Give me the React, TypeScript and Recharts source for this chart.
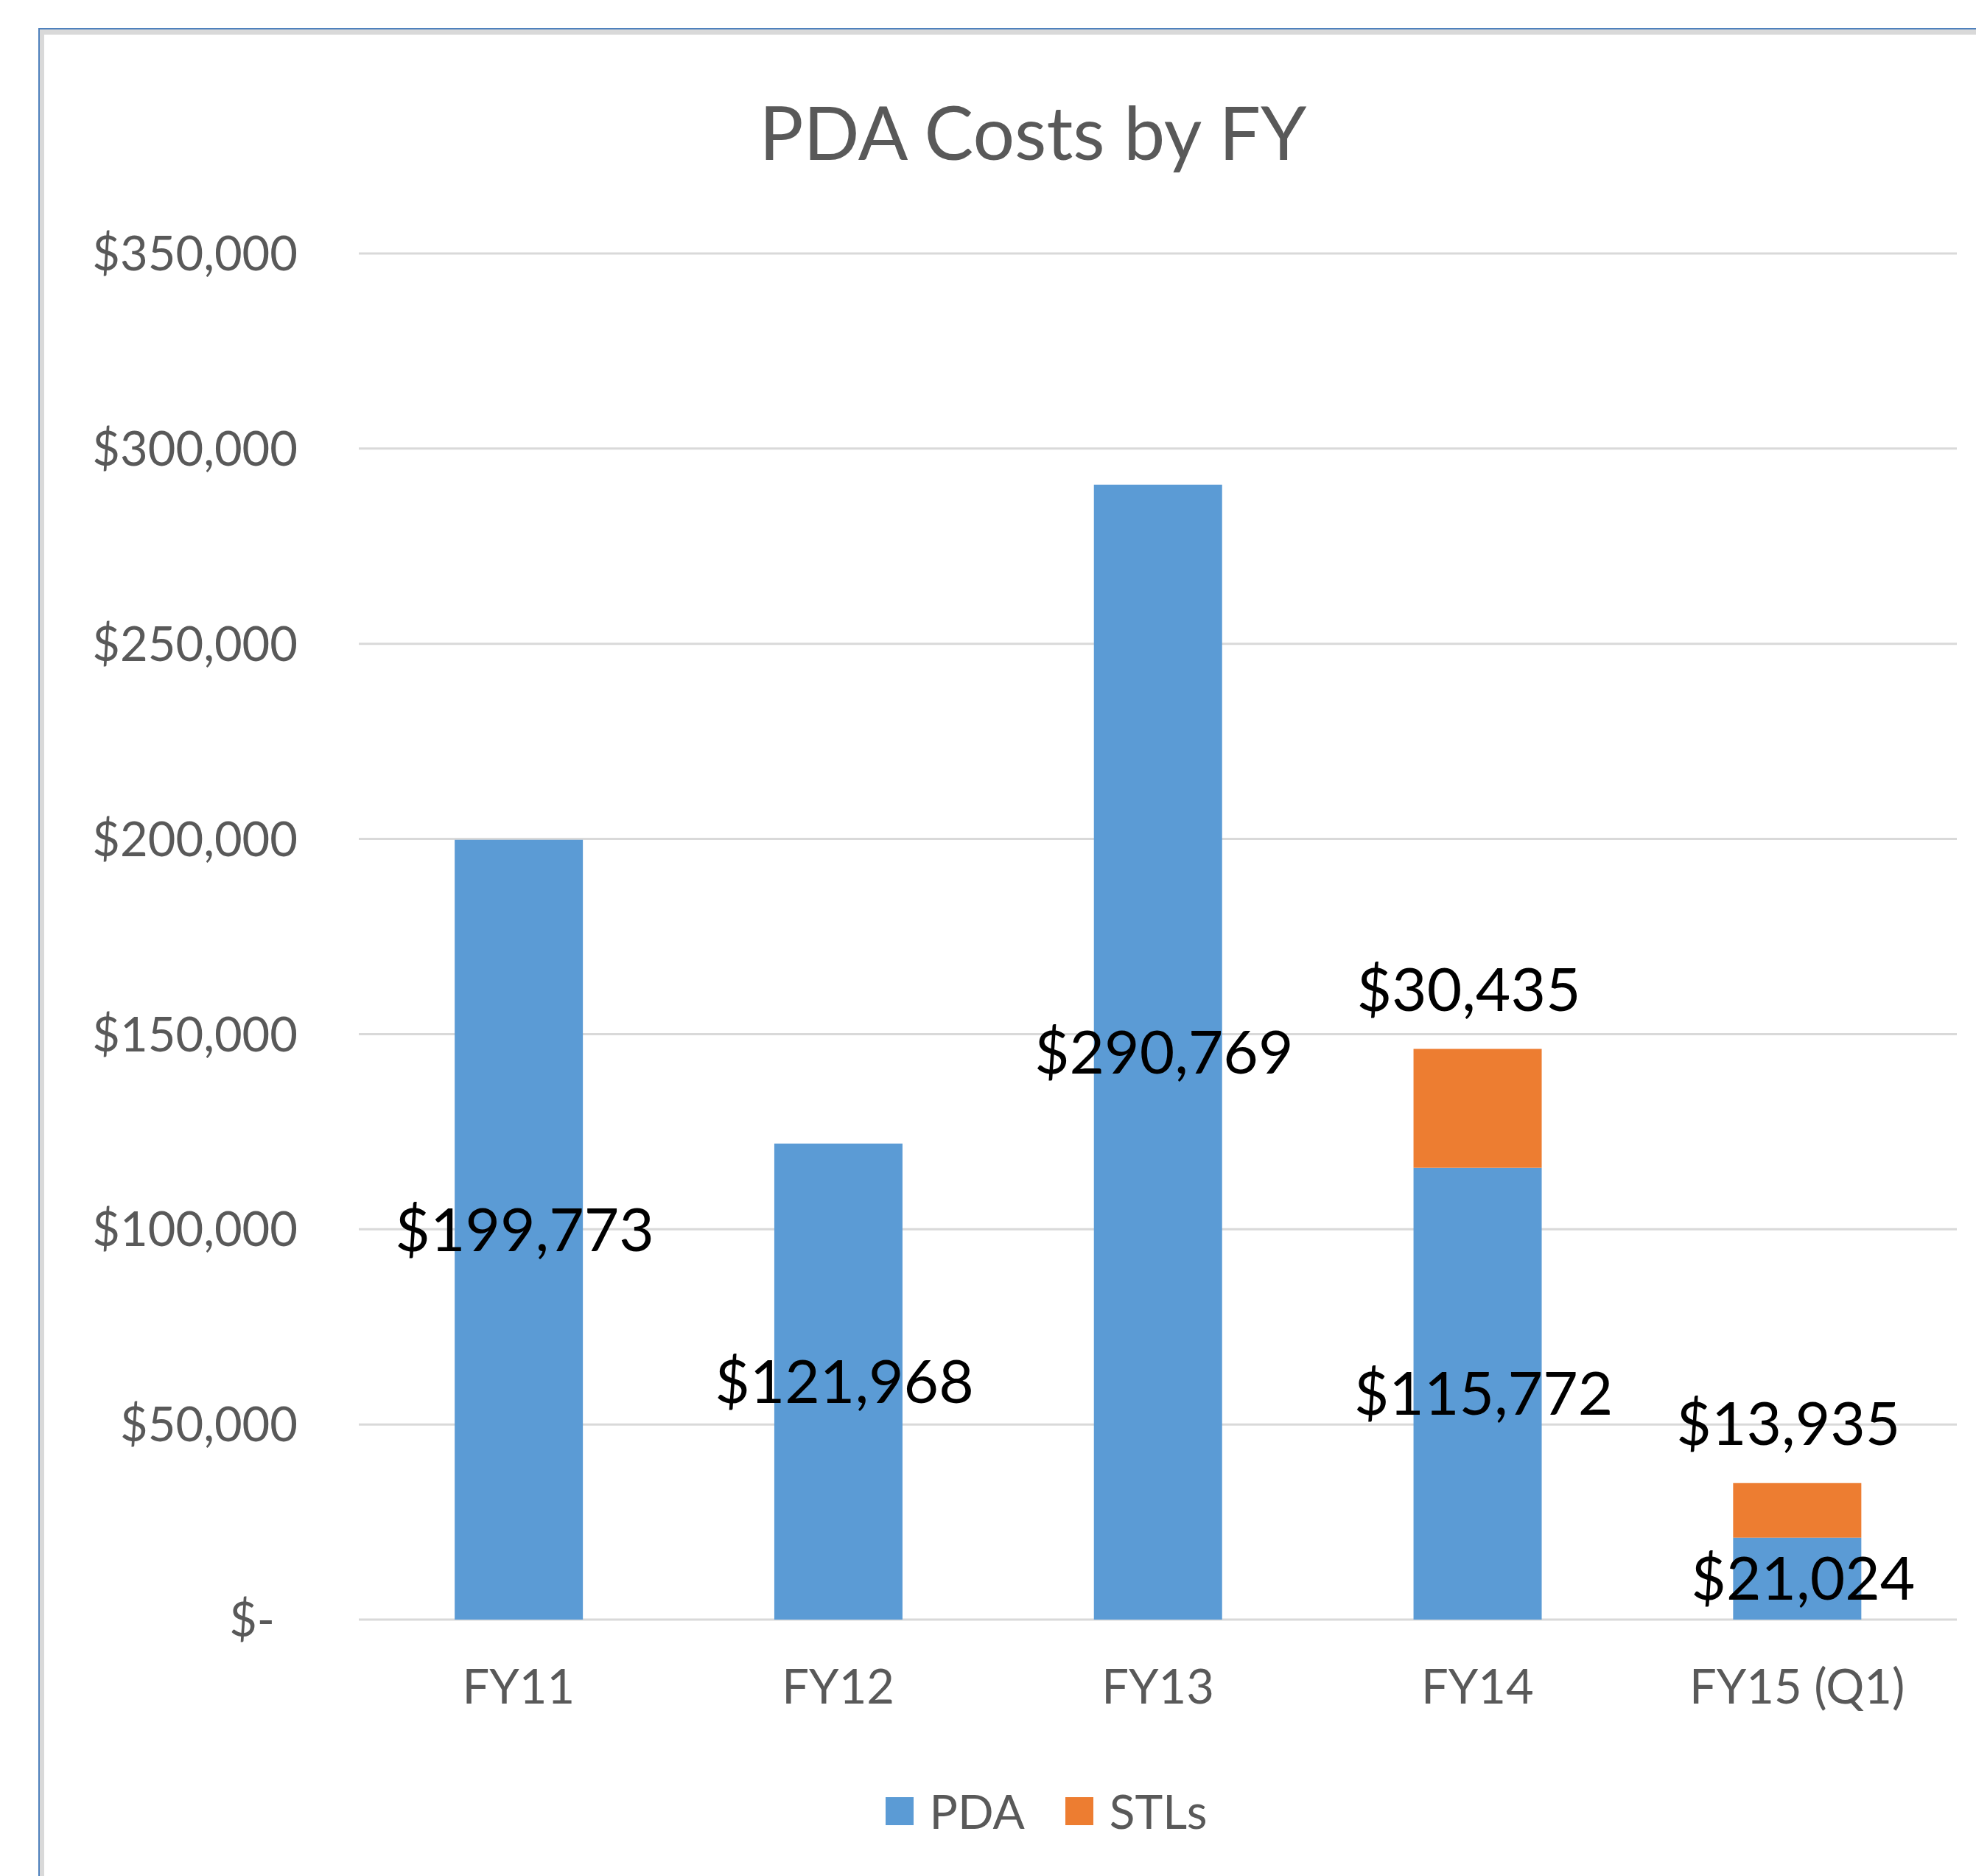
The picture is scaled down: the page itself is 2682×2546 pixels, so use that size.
import { BarChart, Bar, XAxis, YAxis, CartesianGrid, Legend, LabelList } from 'recharts';

const FONT = 'Lato, "Open Sans", sans-serif';
const AXIS_GREY = '#595959';

const categories = ['FY11', 'FY12', 'FY13', 'FY14', 'FY15 (Q1)'];
const pdaCosts = [199773, 121968, 290769, 115772, 21024];
const stlCosts: (number | null)[] = [null, null, null, 30435, 13935];
const yTicks = [0, 50000, 100000, 150000, 200000, 250000, 300000, 350000];

const data = categories.map((fy, i) => ({ fy, PDA: pdaCosts[i], STLs: stlCosts[i] }));

function money(v: number | null | undefined) {
  if (v == null) return '';
  if (v === 0) return '$-';
  return '$' + v.toLocaleString('en-US');
}

function YTick(props: any) {
  const { x, y, payload } = props;
  const zero = payload.value === 0;
  return (
    <text
      x={zero ? x - 31 : x}
      y={y}
      dy="0.355em"
      textAnchor="end"
      fill={AXIS_GREY}
      fontSize={65}
      fontFamily={FONT}
    >
      {money(payload.value)}
    </text>
  );
}

function LegendContent(props: any) {
  const items = props.payload || [];
  return (
    <div
      style={{
        display: 'flex',
        justifyContent: 'center',
        alignItems: 'center',
        fontFamily: FONT,
        fontSize: 64,
        lineHeight: 1,
        color: AXIS_GREY,
      }}
    >
      {items.map((it: any, i: number) => (
        <div key={it.value} style={{ display: 'flex', alignItems: 'center', marginLeft: i ? 55 : 0 }}>
          <span style={{ width: 38, height: 38, background: it.color, display: 'inline-block', marginRight: 22 }} />
          <span>{it.value}</span>
        </div>
      ))}
    </div>
  );
}

export default function App() {
  return (
    <div style={{ position: 'absolute', left: 0, top: 0, width: 2682, height: 2546, background: '#fff', overflow: 'hidden' }}>
      {/* chart area frame, cut off on the right and bottom */}
      <div
        style={{
          position: 'absolute',
          left: 52,
          top: 38,
          width: 2700,
          height: 2600,
          borderLeft: '2px solid #4F81BD',
          borderTop: '2px solid #4F81BD',
          boxShadow: 'inset 6px 7px 0 0 #D9D9D9',
        }}
      />
      <div
        style={{
          position: 'absolute',
          left: 55,
          top: 128,
          width: 2694,
          textAlign: 'center',
          fontFamily: FONT,
          fontSize: 100,
          lineHeight: 1,
          color: AXIS_GREY,
        }}
      >
        PDA Costs by FY
      </div>
      <div style={{ position: 'absolute', left: 0, top: 0 }}>
        <BarChart
          width={2682}
          height={2546}
          data={data}
          margin={{ top: 344, right: 26, left: 0, bottom: 318 }}
          barCategoryGap="30%"
        >
          <CartesianGrid vertical={false} stroke="#D9D9D9" strokeWidth={3} />
          <XAxis
            dataKey="fy"
            axisLine={false}
            tickLine={false}
            height={30}
            tickMargin={62}
            tick={{ fontSize: 65, fill: AXIS_GREY, fontFamily: FONT }}
          />
          <YAxis
            width={487}
            domain={[0, 350000]}
            ticks={yTicks}
            axisLine={false}
            tickLine={false}
            tickMargin={77}
            tick={<YTick />}
          />
          <Legend
            layout="horizontal"
            align="center"
            verticalAlign="middle"
            content={<LegendContent />}
            wrapperStyle={{ left: 55, top: 2426, width: 2730 }}
          />
          <Bar dataKey="PDA" stackId="a" fill="#5B9BD5" isAnimationActive={false}>
            <LabelList
              dataKey="PDA"
              position="center"
              formatter={(v: any) => money(v)}
              fill="#000"
              fontSize={82}
              fontFamily={FONT}
              dx={8}
            />
          </Bar>
          <Bar dataKey="STLs" stackId="a" fill="#ED7D31" isAnimationActive={false}>
            <LabelList
              dataKey="STLs"
              position="top"
              offset={52}
              formatter={(v: any) => money(v)}
              fill="#000"
              fontSize={82}
              fontFamily={FONT}
              dx={-12}
            />
          </Bar>
        </BarChart>
      </div>
    </div>
  );
}
